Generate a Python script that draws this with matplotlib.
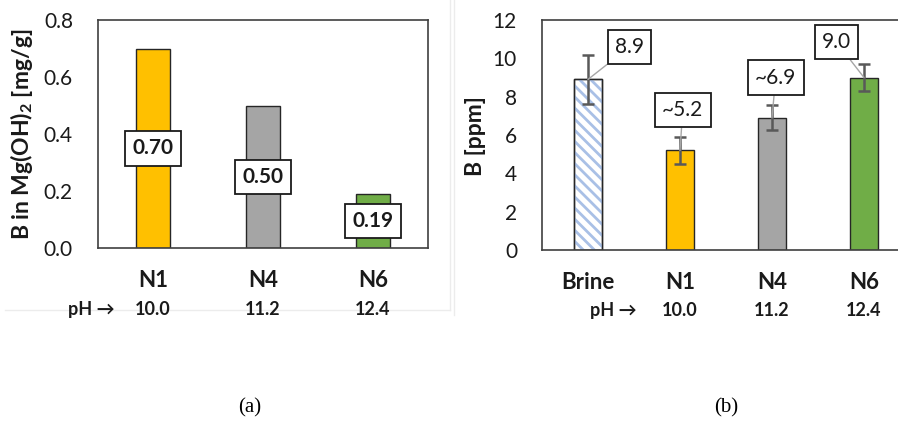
import matplotlib
matplotlib.use("Agg")
import matplotlib.pyplot as plt
from matplotlib.lines import Line2D

plt.rcParams['font.family'] = ['Lato', 'DejaVu Sans']
plt.rcParams['mathtext.fontset'] = 'custom'
plt.rcParams['mathtext.rm'] = 'Lato'
plt.rcParams['mathtext.bf'] = 'Lato:bold'
plt.rcParams['hatch.linewidth'] = 2.0

# (a) boron taken up by the Mg(OH)2 solid
samples_a = ["N1", "N4", "N6"]
ph_a = ["10.0", "11.2", "12.4"]
boron_solid = [0.70, 0.50, 0.19]
labels_a = ["0.70", "0.50", "0.19"]

# (b) boron left in the liquid
samples_b = ["Brine", "N1", "N4", "N6"]
ph_b = ["", "10.0", "11.2", "12.4"]
boron_ppm = [8.9, 5.2, 6.9, 9.0]
boron_err = [1.3, 0.7, 0.65, 0.7]
labels_b = ["8.9", "~5.2", "~6.9", "9.0"]

yellow, grey, green = '#FFC000', '#A5A5A5', '#70AD47'
edge = '#262626'
txt = '#1a1a1a'

fig = plt.figure(figsize=(8.98, 4.21), dpi=100)

# faint chart-area borders (behind everything)
for xs, ys in [([450, 450], [0, 310]), ([5, 450], [310, 310]), ([454, 454], [0, 315])]:
    fig.add_artist(Line2D([x/898 for x in xs], [1 - y/421 for y in ys],
                          transform=fig.transFigure, color='#ececec', lw=1, zorder=-5))

# ---- panel (a)
axa = fig.add_axes([98/898, 1 - 248.3/421, 330/898, 228.3/421])
xa = list(range(len(samples_a)))
axa.bar(xa, boron_solid, width=0.31, color=[yellow, grey, green],
        edgecolor=edge, linewidth=1.0, zorder=2)
axa.set_xlim(-0.5, len(samples_a) - 0.5)
axa.set_ylim(0, 0.8)
axa.set_yticks([0, 0.2, 0.4, 0.6, 0.8])
axa.yaxis.set_major_formatter('{x:.1f}')
axa.set_xticks([])
axa.tick_params(axis='y', length=0, pad=18, labelsize=15, labelcolor=txt)

for i, (v, lab) in enumerate(zip(boron_solid, labels_a)):
    axa.text(i, v / 2, lab, ha='center', va='center', fontsize=15,
             fontweight='bold', color=txt, zorder=4,
             bbox=dict(boxstyle='square,pad=0.35', fc='white', ec=txt, lw=1.3))

xt = axa.get_xaxis_transform()
for i in xa:
    axa.text(i, -0.143, samples_a[i], transform=xt, ha='center', va='center',
             fontsize=16, fontweight='bold', color=txt)
    axa.text(i, -0.27, ph_a[i], transform=xt, ha='center', va='center',
             fontsize=13, fontweight='bold', color=txt)
axa.text(-0.345, -0.27, 'pH \u2192', transform=xt, ha='right', va='center',
         fontsize=13, fontweight='bold', color=txt)

fig.text(22/898, 1 - 134/421, r'B in Mg(OH)$_\mathbf{2}$ [mg/g]', rotation=90,
         ha='center', va='center', fontsize=16.5, fontweight='bold', color=txt)

# ---- panel (b)
axb = fig.add_axes([542/898, 1 - 250/421, 368/898, 230/421])
xb = list(range(len(samples_b)))
axb.bar(xb, boron_ppm, width=0.315, color=['white', yellow, grey, green],
        edgecolor=edge, linewidth=1.0, zorder=2)
# brine bar: light blue diagonal stripes
axb.bar(xb[0], boron_ppm[0], width=0.315, color='none', edgecolor='#A9C0E6',
        hatch='\\\\\\', linewidth=0, zorder=2.1)
axb.bar(xb[0], boron_ppm[0], width=0.315, fill=False, edgecolor=edge,
        linewidth=1.0, zorder=2.2)
axb.errorbar(xb, boron_ppm, yerr=boron_err, fmt='none', ecolor='#595959',
             elinewidth=1.8, capsize=4, capthick=1.8, zorder=3)
axb.set_xlim(-0.5, len(samples_b) - 0.5)
axb.set_ylim(0, 12)
axb.set_yticks(range(0, 13, 2))
axb.set_xticks([])
axb.tick_params(axis='y', length=0, pad=18, labelsize=15, labelcolor=txt)

# label box centres relative to the bar top
box_shift = [(0.45, 1.7), (0.03, 2.1), (0.04, 2.1), (-0.3, 1.85)]
for i, (v, lab) in enumerate(zip(boron_ppm, labels_b)):
    dx, dy = box_shift[i]
    axb.annotate(lab, xy=(i, v), xytext=(i + dx, v + dy), ha='center',
                 va='center', fontsize=15, color=txt, zorder=5,
                 bbox=dict(boxstyle='square,pad=0.35', fc='white', ec=txt, lw=1.3),
                 arrowprops=dict(arrowstyle='-', color='#a6a6a6', lw=1,
                                 shrinkA=0, shrinkB=0))

xt = axb.get_xaxis_transform()
for i in xb:
    axb.text(i, -0.143, samples_b[i], transform=xt, ha='center', va='center',
             fontsize=16, fontweight='bold', color=txt)
    axb.text(i, -0.261, ph_b[i], transform=xt, ha='center', va='center',
             fontsize=13, fontweight='bold', color=txt)
axb.text(0.533, -0.261, 'pH \u2192', transform=xt, ha='right', va='center',
         fontsize=13, fontweight='bold', color=txt)

fig.text(475/898, 1 - 136/421, 'B [ppm]', rotation=90, ha='center',
         va='center', fontsize=16.5, fontweight='bold', color=txt)

for ax in (axa, axb):
    for sp in ax.spines.values():
        sp.set_color('#404040')
        sp.set_linewidth(1.2)

fig.text(250/898, 1 - 408/421, '(a)', ha='center', va='center', fontsize=15,
         family='Liberation Serif')
fig.text(726/898, 1 - 408/421, '(b)', ha='center', va='center', fontsize=15,
         family='Liberation Serif')

fig.savefig('out.png', dpi=100)
